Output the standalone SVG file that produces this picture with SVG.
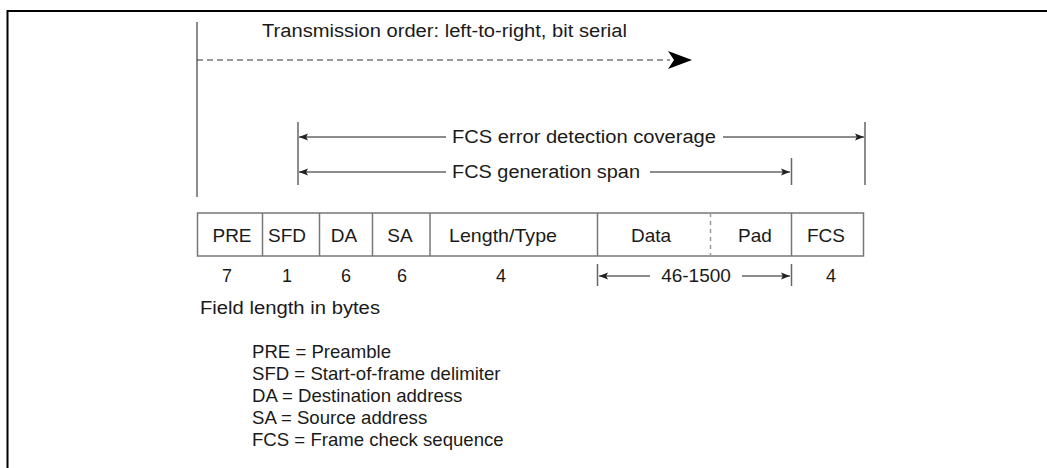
<svg xmlns="http://www.w3.org/2000/svg" width="1047" height="468" viewBox="0 0 1047 468">
<style>
text{font-family:"Liberation Sans",Arial,sans-serif;font-size:18px;fill:#1a1a1a}
.c{text-anchor:middle}
.f{font-size:19px}
.lg{font-size:18.6px}
.ln{stroke:#666;stroke-width:1.5;fill:none}
.box{stroke:#777;stroke-width:1.5;fill:#fff}
</style>
<defs>
<marker id="ah" viewBox="0 0 10 10" refX="10" refY="5" markerWidth="9" markerHeight="9" markerUnits="userSpaceOnUse" orient="auto-start-reverse">
<path d="M0,1 L10,5 L0,9 L2,5 Z" fill="#222"/>
</marker>
</defs>
<rect width="1047" height="468" fill="#fff"/>
<g id="frame">
<path d="M7.5,468 V11 H1047" stroke="#000" stroke-width="2" fill="none"/>
</g>
<g id="title">
<text x="262" y="37" textLength="365" lengthAdjust="spacingAndGlyphs">Transmission order: left-to-right, bit serial</text>
</g>
<g id="connectors">
<line class="ln" x1="197" y1="22" x2="197" y2="197"/>
<line x1="197" y1="60" x2="670" y2="60" stroke="#333" stroke-width="1.2" stroke-dasharray="6,4"/>
<path d="M668,51 L692,60 L668,69 L674,60 Z" fill="#000"/>
<line class="ln" x1="298" y1="122" x2="298" y2="185"/>
<line class="ln" x1="865" y1="122" x2="865" y2="185"/>
<line class="ln" x1="791.5" y1="158" x2="791.5" y2="185"/>
<line class="ln" x1="446" y1="137" x2="299" y2="137" marker-end="url(#ah)"/>
<line class="ln" x1="723" y1="137" x2="864" y2="137" marker-end="url(#ah)"/>
<line class="ln" x1="446" y1="172" x2="299" y2="172" marker-end="url(#ah)"/>
<line class="ln" x1="650" y1="172" x2="790" y2="172" marker-end="url(#ah)"/>
<line class="ln" x1="597.5" y1="264" x2="597.5" y2="286"/>
<line class="ln" x1="791.5" y1="264" x2="791.5" y2="286"/>
<line class="ln" x1="650" y1="276" x2="599" y2="276" marker-end="url(#ah)"/>
<line class="ln" x1="742" y1="276" x2="790" y2="276" marker-end="url(#ah)"/>
</g>
<g id="spanlabels">
<text x="452" y="143" textLength="264" lengthAdjust="spacingAndGlyphs">FCS error detection coverage</text>
<text x="452" y="178" textLength="188" lengthAdjust="spacingAndGlyphs">FCS generation span</text>
</g>
<g id="fields">
<rect class="box" x="197.5" y="213" width="666" height="43"/>
<line class="box" x1="262.5" y1="213" x2="262.5" y2="256"/>
<line class="box" x1="319.5" y1="213" x2="319.5" y2="256"/>
<line class="box" x1="372.5" y1="213" x2="372.5" y2="256"/>
<line class="box" x1="430" y1="213" x2="430" y2="256"/>
<line class="box" x1="597.5" y1="213" x2="597.5" y2="256"/>
<line x1="710.5" y1="213" x2="710.5" y2="256" stroke="#999" stroke-width="1.5" stroke-dasharray="4,4"/>
<line class="box" x1="791.5" y1="213" x2="791.5" y2="256"/>
<text class="c f" x="232" y="242">PRE</text>
<text class="c f" x="287" y="242">SFD</text>
<text class="c f" x="344" y="242">DA</text>
<text class="c f" x="400" y="242">SA</text>
<text class="c f" x="503" y="242" textLength="108" lengthAdjust="spacingAndGlyphs">Length/Type</text>
<text class="c f" x="651" y="242">Data</text>
<text class="c f" x="755" y="242">Pad</text>
<text class="c f" x="826" y="242">FCS</text>
</g>
<g id="lengths">
<text class="c" x="227" y="282">7</text>
<text class="c" x="287" y="282">1</text>
<text class="c" x="346" y="282">6</text>
<text class="c" x="402" y="282">6</text>
<text class="c" x="501" y="282">4</text>
<text class="c f" x="696" y="282">46-1500</text>
<text class="c" x="831" y="282">4</text>
</g>
<g id="legend">
<text x="200" y="314" textLength="180" lengthAdjust="spacingAndGlyphs">Field length in bytes</text>
<text class="lg" x="252" y="358">PRE = Preamble</text>
<text class="lg" x="252" y="380">SFD = Start-of-frame delimiter</text>
<text class="lg" x="252" y="402">DA = Destination address</text>
<text class="lg" x="252" y="424">SA = Source address</text>
<text class="lg" x="252" y="446">FCS = Frame check sequence</text>
</g>
</svg>
